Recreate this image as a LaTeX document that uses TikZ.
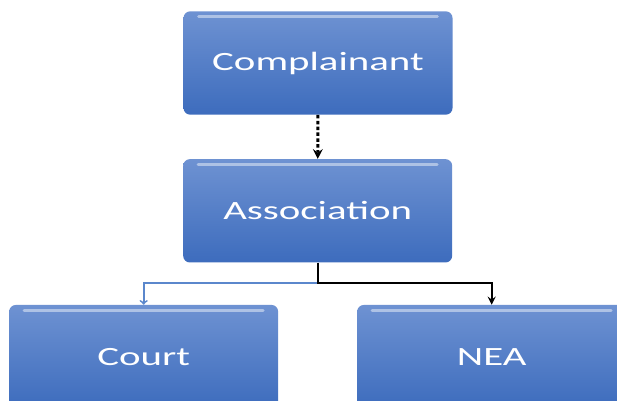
\documentclass[tikz,border=0pt]{standalone}
\usepackage{fontspec}
\newfontfamily\boxfont[FakeStretch=1.55]{Carlito}
\usetikzlibrary{positioning, arrows}
\definecolor{boxtop}{HTML}{6E92D2}
\definecolor{boxbottom}{HTML}{3D6CBD}
\definecolor{linkblue}{HTML}{5B87CC}
\tikzstyle{party} = [rectangle, rounded corners=0.2cm, minimum width=8.07cm, minimum height=3.1cm, text centered, top color=boxtop, bottom color=boxbottom, text=white, font=\boxfont\fontsize{22.5}{26}\selectfont,
  path picture={\draw[white, opacity=0.45, line width=2.5pt, line cap=round] ([xshift=0.45cm,yshift=-0.16cm]path picture bounding box.north west) -- ([xshift=-0.45cm,yshift=-0.16cm]path picture bounding box.north east);}]
\tikzstyle{arrow} = [line width=2pt,->,>=stealth]
\tikzstyle{bluearrow} = [line width=1.5pt,->,>=to,draw=linkblue]

\begin{document}
\begin{tikzpicture}
  \useasboundingbox (0,0) rectangle (18.51,-12);
  \clip (0,0) rectangle (18.51,-12);
  \node (complainant) [party] at (9.54,-1.89) {Complainant};
  \node (association) [party, below=1.32cm of complainant, xshift=-0.01cm] {Association};
  \node (court) [party, below=1.26cm of association, xshift=-5.22cm] {Court};
  \node (nea) [party, below=1.26cm of association, xshift=5.22cm] {NEA};
  \coordinate (fork) at ([yshift=-0.6cm]association.south);
  \draw [arrow, line width=2.6pt, dash pattern=on 3pt off 2pt] (complainant) -- (association);
  \draw [bluearrow] (fork) -| (court);
  \draw [arrow] (association) -- (fork) -| (nea);
\end{tikzpicture}
\end{document}
